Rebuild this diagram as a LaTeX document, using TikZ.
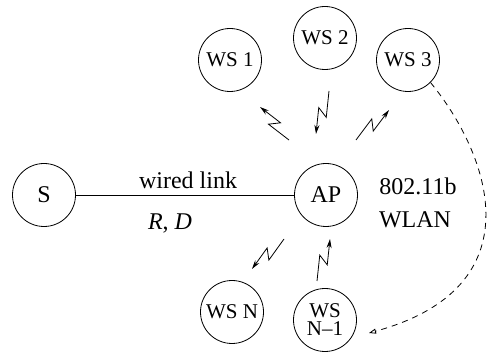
\documentclass[tikz,border=0pt]{standalone}
\usepackage{fontspec}
\setmainfont{Liberation Serif}
\usetikzlibrary{calc,arrows.meta}
\tikzset{
 station/.style={circle,draw,line width=0.8pt,minimum size=63pt,inner sep=0pt,font=\fontsize{21}{24}\selectfont},
 wire/.style={line width=0.8pt},
 lbl/.style={font=\fontsize{24}{28}\selectfont, inner sep=0pt},
 radio/.style={line width=0.8pt,-{Stealth[length=9pt,width=5pt]}},
 backlink/.style={line width=0.8pt,dash pattern=on 6pt off 5pt,-{Triangle[open,length=7pt,width=5pt]}}
}
\newcommand\zap[2]{\draw[radio] (#1) -- ($(#1)!0.58!(#2)!5pt!90:(#2)$) -- ($(#1)!0.42!(#2)!5pt!-90:(#2)$) -- (#2);}
\begin{document}
\begin{tikzpicture}[x=1pt,y=-1pt]
\useasboundingbox (0,0) rectangle (487,352);
\node[station,font=\fontsize{24}{28}\selectfont] (s) at (44,195) {S};
\node[station,font=\fontsize{24}{28}\selectfont] (ap) at (326,195) {AP};
\node[station] (ws1) at (230,60) {WS 1};
\node[station] (ws2) at (325,38) {WS 2};
\node[station] (ws3) at (408,60) {WS 3};
\node[station] (wsn) at (232,312) {WS N};
\node[station,align=center,font=\fontsize{21}{18}\selectfont] (wsn1) at (325,320) {WS\\N–1};
\draw[wire] (s) -- (ap);
\node[lbl] (wl) at (188,180) {wired link};
\node[lbl] (rd) at (170,223) {\textit{R}, \textit{D}};
\node[lbl] (std) at (418,186) {802.11b};
\node[lbl] (wlan) at (415,220) {WLAN};
\coordinate (z1a) at (289,140); \coordinate (z1b) at (260,107);
\coordinate (z2a) at (329,91);  \coordinate (z2b) at (316,134);
\coordinate (z3a) at (356,140); \coordinate (z3b) at (389,110);
\coordinate (z4a) at (284,239); \coordinate (z4b) at (252,269);
\coordinate (z5a) at (317,281); \coordinate (z5b) at (330,239);
\zap{z1a}{z1b}
\zap{z2a}{z2b}
\zap{z3a}{z3b}
\zap{z4a}{z4b}
\zap{z5a}{z5b}
\coordinate (back) at (369,333);
\draw[backlink] (ws3.-45) .. controls (490,155) and (537,287) .. (back);
\end{tikzpicture}
\end{document}
